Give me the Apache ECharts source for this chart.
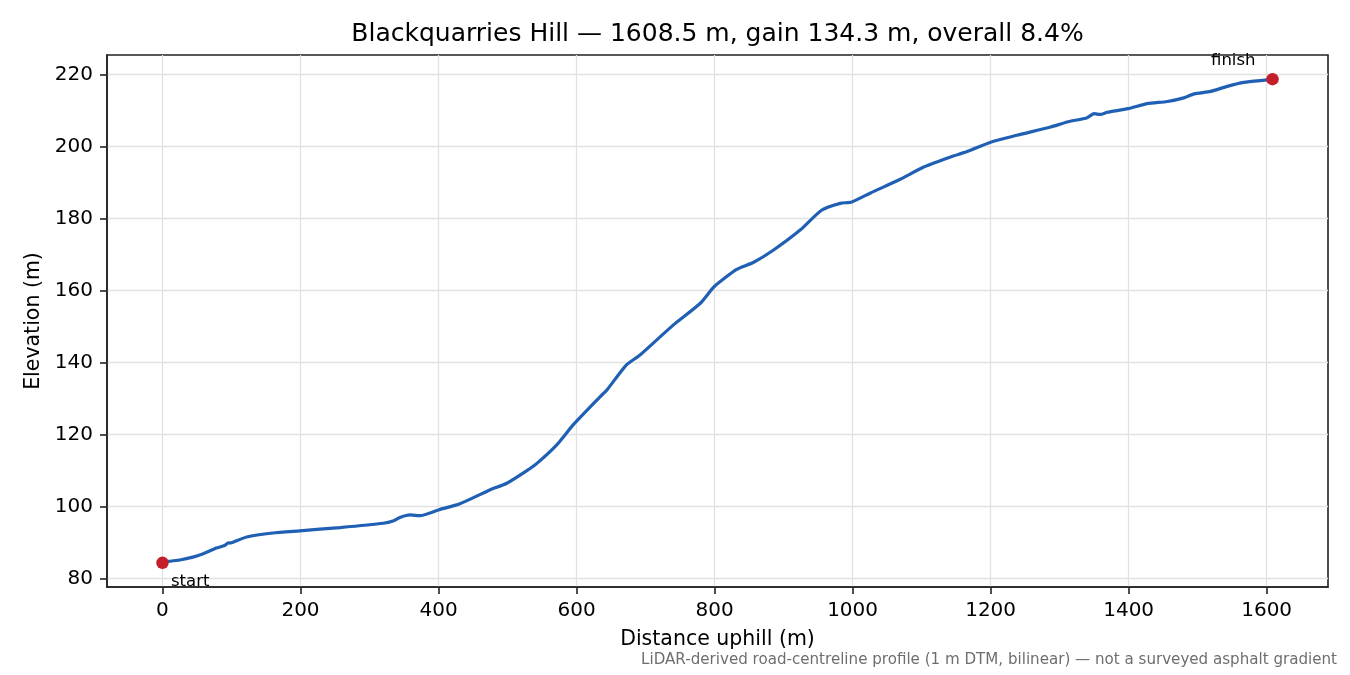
<!DOCTYPE html>
<html>
<head>
<meta charset="utf-8">
<title>Blackquarries Hill profile</title>
<script src="https://cdn.jsdelivr.net/npm/echarts@6/dist/echarts.min.js"></script>
<style>
  html, body { margin: 0; padding: 0; background: #fff; }
  #chart { width: 1350px; height: 675px; }
</style>
</head>
<body>
<div id="chart"></div>
<script>
// Road profile (distance uphill in m, elevation in m)
const distance = [
  0, 8, 25, 44, 60, 78, 90, 95, 100, 122, 160, 199, 257, 320, 335, 344, 359, 373,
  400, 431, 475, 499, 528, 543, 571, 596, 634, 644, 672, 692, 740, 779, 800, 832,
  856, 885, 924, 955, 982, 999, 1026, 1069, 1103, 1142, 1166, 1200, 1238, 1287,
  1311, 1340, 1350, 1359, 1369, 1399, 1427, 1456, 1480, 1495, 1519, 1543, 1567,
  1601, 1608.5
]
const elevation = [
  84.4, 84.8, 85.2, 86.0, 87.0, 88.5, 89.2, 89.9, 90.0, 91.6, 92.7, 93.3, 94.2, 95.4, 96.1, 97.0, 97.7, 97.5,
  99.1, 100.8, 104.7, 106.5, 110.0, 112.1, 117.1, 122.9, 130.5, 132.4, 139.3, 142.1, 150.4, 156.4, 161.2, 165.9,
  167.8, 171.2, 176.8, 182.3, 184.2, 184.6, 187.1, 190.9, 194.3, 197.1, 198.6, 201.2, 203.1, 205.4,
  206.8, 208.0, 209.1, 208.9, 209.5, 210.5, 211.9, 212.5, 213.5, 214.6, 215.3, 216.7, 217.8,
  218.5, 218.7
]

// Start / finish markers
const endpointNames = ['start', 'finish']
const endpointDistance = [0, 1608.5]
const endpointElevation = [84.4, 218.7]

// Tick labels
const xTicks = [0, 200, 400, 600, 800, 1000, 1200, 1400, 1600]
const yTicks = [80, 100, 120, 140, 160, 180, 200, 220]

const titleText = 'Blackquarries Hill \u2014 1608.5 m, gain 134.3 m, overall 8.4%'
const noteText = 'LiDAR-derived road-centreline profile (1 m DTM, bilinear) \u2014 not a surveyed asphalt gradient'

const FONT = 'DejaVu Sans'
const LINE_COLOR = '#1f5fb4'
const MARK_COLOR = '#c41e2a'

const profile = distance.map((d, i) => [d, elevation[i]])

// label offsets relative to marker box top-left
const labelOffsets = {
  start: [34, 25],
  finish: [-33, -12],
}

const endpoints = endpointNames.map((name, i) => ({
  name,
  value: [endpointDistance[i], endpointElevation[i]],
  label: {
    show: true,
    formatter: name,
    position: labelOffsets[name],
    align: 'center',
    verticalAlign: 'middle',
    fontFamily: FONT,
    fontSize: 16.5,
    color: '#000',
  },
}))

const axisCommon = {
  type: 'value',
  axisLine: { show: true, onZero: false, lineStyle: { color: '#222', width: 1.6 } },
  axisTick: { show: true, length: 7, lineStyle: { color: '#222', width: 1.6 } },
  splitLine: { show: true, lineStyle: { color: '#e1e1e1', width: 1.3 } },
  nameLocation: 'middle',
  nameTextStyle: { fontFamily: FONT, fontSize: 20.5, color: '#000' },
}

const chart = echarts.init(document.getElementById('chart'), null, { renderer: 'canvas' })

chart.setOption({
  backgroundColor: '#fff',
  animation: false,
  grid: {
    left: 107,
    right: 22,
    top: 55,
    bottom: 88,
    show: true,
    borderColor: '#222',
    borderWidth: 1.6,
    backgroundColor: 'transparent',
    outerBoundsMode: 'none',
    containLabel: false,
  },
  graphic: [
    {
      type: 'text',
      x: 717.5,
      y: 34,
      style: {
        text: titleText,
        fontFamily: FONT,
        fontSize: 25,
        fill: '#000',
        textAlign: 'center',
        textVerticalAlign: 'middle',
      },
    },
    {
      type: 'text',
      x: 1337,
      y: 660,
      style: {
        text: noteText,
        fontFamily: FONT,
        fontSize: 15.1,
        fill: '#6e6e6e',
        textAlign: 'right',
        textVerticalAlign: 'middle',
      },
    },
  ],
  xAxis: {
    ...axisCommon,
    min: -80.4,
    max: 1688.9,
    name: 'Distance uphill (m)',
    nameGap: 42,
    axisTick: { ...axisCommon.axisTick, customValues: xTicks },
    axisLabel: {
      customValues: xTicks,
      formatter: v => String(v),
      margin: 14,
      fontFamily: FONT,
      fontSize: 20,
      color: '#000',
    },
  },
  yAxis: {
    ...axisCommon,
    min: 77.7,
    max: 225.4,
    name: 'Elevation (m)',
    nameGap: 61,
    axisTick: { ...axisCommon.axisTick, customValues: yTicks },
    axisLabel: {
      customValues: yTicks,
      formatter: v => String(v),
      margin: 14,
      fontFamily: FONT,
      fontSize: 20,
      color: '#000',
    },
  },
  series: [
    {
      type: 'line',
      data: profile,
      showSymbol: false,
      smooth: 0.2,
      lineStyle: { color: LINE_COLOR, width: 3.2 },
      z: 2,
    },
    {
      type: 'scatter',
      data: endpoints,
      symbol: 'circle',
      symbolSize: 12.5,
      itemStyle: { color: MARK_COLOR, opacity: 1 },
      z: 3,
    },
  ],
})
</script>
</body>
</html>
